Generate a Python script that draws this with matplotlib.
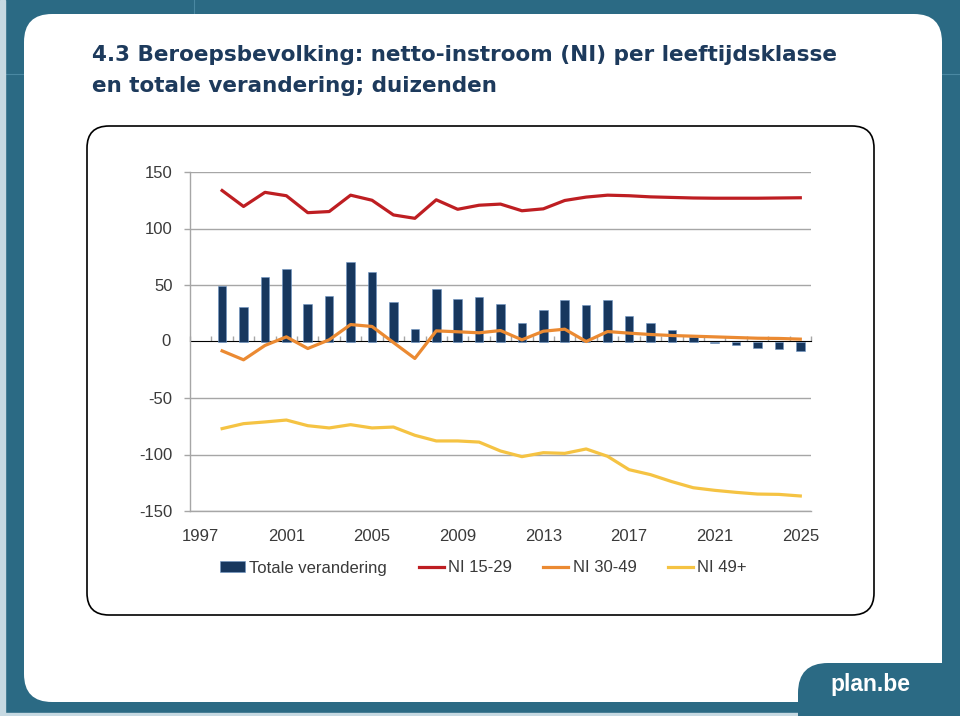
import numpy as np
import matplotlib.pyplot as plt
from matplotlib.patches import FancyBboxPatch, Rectangle
from matplotlib.lines import Line2D
from matplotlib.transforms import IdentityTransform

# ── data (duizenden) ─────────────────────────────────────────────
years = np.arange(1998, 2026)
tick_years = [1997, 2001, 2005, 2009, 2013, 2017, 2021, 2025]

totale = [48.7, 30.7, 57.5, 64.0, 33.3, 40.7, 70.5, 61.4, 34.8, 11.2,
          46.3, 37.5, 39.3, 33.3, 16.2, 27.7, 36.6, 32.4, 36.6, 22.4,
          16.2, 10.0, 4.4, -1.0, -3.2, -5.9, -6.8, -8.3]
ni_15_29 = [133.6, 119.5, 132.0, 129.0, 114.0, 115.0, 129.5, 125.0, 112.0, 109.0,
            125.4, 117.0, 120.6, 121.6, 115.7, 117.4, 124.8, 127.8, 129.5, 129.0,
            128.0, 127.5, 127.0, 126.8, 126.8, 126.8, 127.0, 127.2]
ni_30_49 = [-8.3, -16.2, -3.5, 4.1, -6.2, 1.5, 15.0, 13.3, -0.9, -15.0,
            9.4, 8.6, 7.7, 9.7, 1.5, 9.1, 10.9, 0.0, 8.8, 7.4,
            6.2, 5.3, 4.7, 4.1, 3.5, 2.9, 2.7, 2.1]
ni_49 = [-77.1, -72.7, -71.2, -69.5, -74.5, -76.5, -73.6, -76.5, -75.7, -83.0,
         -88.0, -88.0, -89.0, -96.9, -101.9, -98.4, -99.0, -95.1, -101.6, -113.4,
         -117.8, -124.0, -129.4, -131.7, -133.5, -135.0, -135.3, -136.7]

TEAL = "#2b6a84"
GRID = "#a6a6a6"
TXT = "#3a3a3a"
W, H = 960, 716

plt.rcParams["font.family"] = ["Liberation Sans", "DejaVu Sans"]

fig = plt.figure(figsize=(W / 100, H / 100), dpi=100, facecolor=TEAL)
px = IdentityTransform()

def box(x0, ytop, x1, ybot, r, **kw):
    # pixel box, y measured from the top of the picture
    p = FancyBboxPatch((x0, H - ybot), x1 - x0, ybot - ytop,
                       boxstyle=f"round,pad=0,rounding_size={r}",
                       transform=px, **kw)
    fig.add_artist(p)
    return p

# ── background frame ─────────────────────────────────────────────
fig.add_artist(Line2D([194, 194], [H - 14, H], transform=px, color="#4a88a2", lw=0.8, zorder=-20))
fig.add_artist(Line2D([0, W], [H - 74, H - 74], transform=px, color="#4a88a2", lw=0.8, zorder=-20))
fig.add_artist(Rectangle((0, 0), 5, H, transform=px, color="#c6d9e2", zorder=-19))
fig.add_artist(Rectangle((0, 0), W, 3, transform=px, color="#c6d9e2", zorder=-19))
box(24, 14, 942, 702, 28, facecolor="white", edgecolor="none", zorder=-15)
box(798, 663, 1010, 760, 30, facecolor=TEAL, edgecolor="none", zorder=-14)
box(87, 126, 874, 615, 22, facecolor="white", edgecolor="black", lw=1.2, zorder=-13)

title_kw = dict(transform=px, fontsize=15.5, fontweight="bold", color="#1d3a5c",
                va="baseline", family=["DejaVu Sans"])
fig.text(92, H - 61, "4.3 Beroepsbevolking: netto-instroom (NI) per leeftijdsklasse", **title_kw)
fig.text(92, H - 92, "en totale verandering; duizenden", **title_kw)
fig.text(870, H - 691, "plan.be", transform=px, fontsize=16.5, fontweight="bold",
         color="white", ha="center", va="baseline")

# ── chart ────────────────────────────────────────────────────────
ax = fig.add_axes([190 / W, 1 - 511 / H, (811 - 190) / W, (511 - 172) / H])
ax.set_facecolor("none")

bars = ax.bar(years, totale, width=0.4, color="#17375e", edgecolor="#6f96c4", lw=0.4,
              label="Totale verandering", zorder=2)
l1, = ax.plot(years, ni_15_29, color="#be1e22", lw=2.3, label="NI 15-29", zorder=3)
l2, = ax.plot(years, ni_30_49, color="#eb8a32", lw=2.3, label="NI 30-49", zorder=3)
l3, = ax.plot(years, ni_49, color="#f5c343", lw=2.3, label="NI 49+", zorder=3)

ax.set_xlim(1996.5, 2025.5)
ax.set_ylim(-150, 150)
ax.set_yticks([-150, -100, -50, 50, 100, 150])
ax.set_yticklabels(["-150", "-100", "-50", "50", "100", "150"])
ax.set_xticks(tick_years)
ax.set_xticklabels([str(y) for y in tick_years])
ax.grid(axis="y", color=GRID, lw=1.0, zorder=0)
ax.set_axisbelow(True)

ax.tick_params(axis="y", direction="out", length=4.5, width=1.0, color=GRID,
               labelsize=12, labelcolor=TXT, pad=8)
ax.tick_params(axis="x", length=0, labelsize=12, labelcolor=TXT, pad=13)
for s in ["top", "right"]:
    ax.spines[s].set_visible(False)
for s in ["left", "bottom"]:
    ax.spines[s].set_color(GRID)
    ax.spines[s].set_linewidth(1.0)

# "0" label and category axis through zero
ax.text(-(8.5 + 4.5 * 1.389) / 621 - 0.008, 0, "0", transform=ax.get_yaxis_transform(),
        ha="right", va="center", fontsize=12, color=TXT)
zero = ax.secondary_xaxis(0.5)
zero.set_xticks(np.arange(1996.5, 2026, 1.0))
zero.set_xticklabels([])
zero.tick_params(direction="out", length=3.8, width=1.0, color=GRID)
zero.spines["bottom"].set_color(GRID)
zero.spines["bottom"].set_linewidth(1.0)

fig.legend(handles=[bars, l1, l2, l3], loc="center",
           bbox_to_anchor=(483.5 / W, 1 - 568 / H), ncol=4,
           frameon=False, fontsize=12, handlelength=1.5, handleheight=0.6,
           handletextpad=0.25, columnspacing=1.9, labelcolor=TXT)

fig.savefig("out.png", dpi=100, facecolor=TEAL)
